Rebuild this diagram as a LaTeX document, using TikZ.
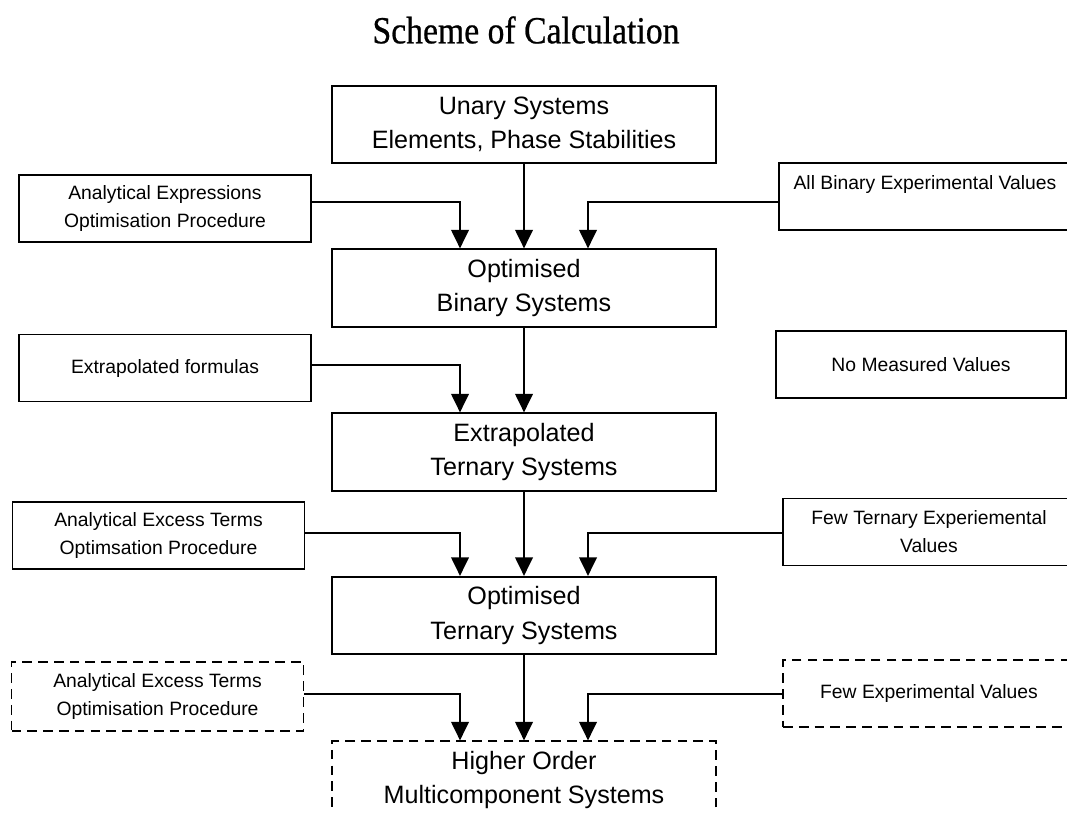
\documentclass[tikz,border=0pt]{standalone}
\usepackage{fontspec}
\setmainfont{Liberation Sans}
\newfontfamily\titlefont[FakeStretch=0.88,FakeBold=0.6]{Liberation Serif}
\usetikzlibrary{arrows.meta}

\tikzset{
  mainbox/.style={draw,line width=1pt,minimum width=7.68cm,minimum height=1.55cm,
    inner sep=0pt,align=center,font=\fontsize{14.3}{19.5}\selectfont},
  sidebox/.style={draw,line width=1pt,minimum width=5.84cm,minimum height=1.34cm,
    inner sep=0pt,align=center,font=\fontsize{11}{15.9}\selectfont},
  dashbox/.style={dash pattern=on 5.5pt off 3.5pt},
  feed/.style={->,line width=1pt},
}

\begin{document}
\begin{tikzpicture}[x=0.02cm,y=-0.02cm,>={Triangle[length=10.5pt,width=10pt]}]
            \useasboundingbox (0,0) rectangle (1067,812);
            \clip (0,0) rectangle (1067,812);
            % title
            \node (title) at (526,30) {\titlefont\fontsize{21.8}{26}\selectfont Scheme of Calculation};
            % main column
            \node[mainbox] (unary) at (524,124.5) {Unary Systems\\Elements, Phase Stabilities};
            \node[mainbox] (binary) at (524,288) {Optimised\\Binary Systems};
            \node[mainbox] (extern) at (524,452) {Extrapolated\\Ternary Systems};
            \node[mainbox] (opttern) at (524,615.5) {Optimised\\Ternary Systems};
            \node[mainbox,dashbox] (higher) at (524,780) {Higher Order\\Multicomponent Systems};
            % inputs on the left
            \node[sidebox] (anaexpr) at (165,208.5) {Analytical Expressions\\Optimisation Procedure};
            \node[sidebox] (extform) at (165,368) {Extrapolated formulas};
            \node[sidebox] (anaterm) at (158.5,535.5) {Analytical Excess Terms\\Optimsation Procedure};
            \node[sidebox,dashbox,minimum height=1.38cm] (anahigh) at (157.5,696.5) {Analytical Excess Terms\\Optimisation Procedure};
            % inputs on the right
            \node[sidebox] (binexp) at (925,196.5) {All Binary Experimental Values\\\mbox{}};
            \node[sidebox,minimum width=5.8cm] (nomeas) at (921,364.5) {No Measured Values};
            \node[sidebox] (terexp) at (929,532) {Few Ternary Experiemental\\Values};
            \node[sidebox,dashbox] (fewexp) at (929,693.5) {Few Experimental Values};
            % connectors
            \draw[feed] (unary) -- (binary);
            \draw[feed] (anaexpr.east |- 0,202) -| (binary.north -| 460,0);
            \draw[feed] (binexp.west |- 0,202) -| (binary.north -| 588,0);
            \draw[feed] (binary) -- (extern);
            \draw[feed] (extform.east |- 0,365) -| (extern.north -| 460,0);
            \draw[feed] (extern) -- (opttern);
            \draw[feed] (anaterm.east |- 0,533) -| (opttern.north -| 460,0);
            \draw[feed] (terexp.west |- 0,533) -| (opttern.north -| 588,0);
            \draw[feed] (opttern) -- (higher);
            \draw[feed] (anahigh.east |- 0,694) -| (higher.north -| 460,0);
            \draw[feed] (fewexp.west |- 0,694) -| (higher.north -| 588,0);
        \end{tikzpicture}
\end{document}
